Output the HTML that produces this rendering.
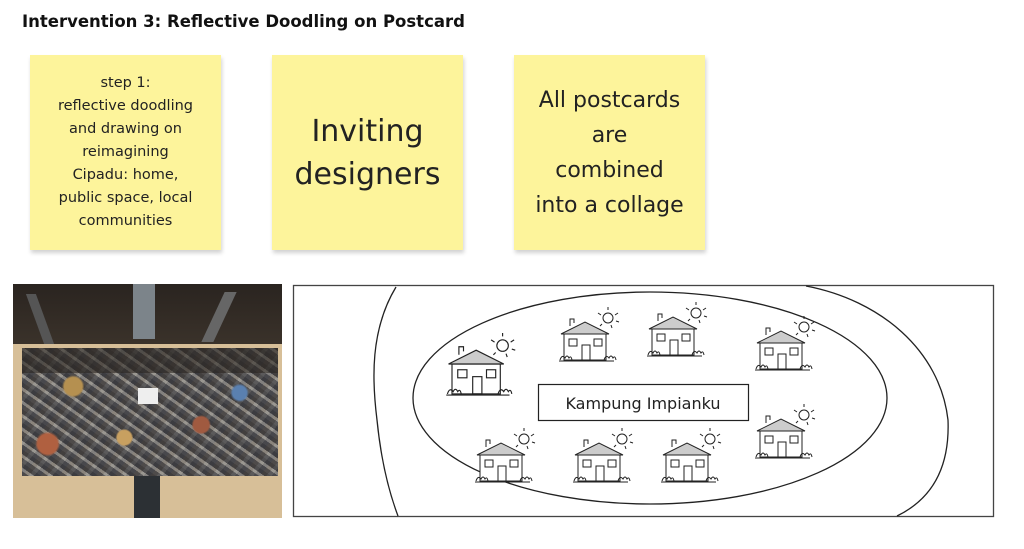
<!DOCTYPE html>
<html><head><meta charset="utf-8"><style>
body{margin:0;width:1024px;height:549px;background:#fff;overflow:hidden;position:relative;font-family:"Liberation Sans","DejaVu Sans",sans-serif}
.t{position:absolute;left:22px;top:12px;font-weight:bold;font-size:16.5px;color:#111;font-family:"DejaVu Sans",sans-serif}
.n{position:absolute;top:55px;width:191px;height:195px;background:#fdf49b;box-shadow:1px 3px 4px rgba(0,0,0,.18);display:flex;align-items:center;justify-content:center;text-align:center;color:#222;font-family:"DejaVu Sans",sans-serif}
.photo{position:absolute;left:13px;top:284px;width:269px;height:234px;background:#d7bf98;overflow:hidden}
</style></head><body>
<div class="t">Intervention 3: Reflective Doodling on Postcard</div>
<div class="n" style="left:30px;font-size:14.5px;line-height:23px">step 1:<br>reflective doodling<br>and drawing on<br>reimagining<br>Cipadu: home,<br>public space, local<br>communities</div>
<div class="n" style="left:272px;font-size:30px;line-height:43px">Inviting<br>designers</div>
<div class="n" style="left:514px;font-size:22px;line-height:35px">All postcards<br>are<br>combined<br>into a collage</div>
<div class="photo">
<div style="position:absolute;left:0;top:0;width:269px;height:60px;background:linear-gradient(180deg,#2a2420,#3a322a)"></div>
<div style="position:absolute;left:120px;top:0;width:22px;height:55px;background:#7c848a"></div>
<div style="position:absolute;left:22px;top:10px;width:10px;height:50px;background:#555;transform:skewX(20deg)"></div>
<div style="position:absolute;left:200px;top:8px;width:12px;height:50px;background:#666;transform:skewX(-25deg)"></div>
<div style="position:absolute;left:9px;top:64px;width:256px;height:128px;background:
radial-gradient(circle at 20% 30%,#b59050 0 4%,transparent 5%),
radial-gradient(circle at 70% 60%,#a05a40 0 4%,transparent 5%),
radial-gradient(circle at 85% 35%,#5a80b0 0 3%,transparent 4%),
radial-gradient(circle at 40% 70%,#c8a060 0 4%,transparent 5%),
radial-gradient(circle at 10% 75%,#b06040 0 4%,transparent 5%),
repeating-linear-gradient(35deg,rgba(60,60,64,.6) 0 4px,rgba(170,166,158,.5) 4px 7px,rgba(40,40,44,.6) 7px 11px),
repeating-linear-gradient(-50deg,#5a5a5e 0 5px,#8a8884 5px 9px,#6a625a 9px 14px),
#666"></div>
<div style="position:absolute;left:9px;top:64px;width:256px;height:25px;background:rgba(40,35,30,.55)"></div>
<div style="position:absolute;left:125px;top:104px;width:20px;height:16px;background:#eee"></div>
<div style="position:absolute;left:121px;top:192px;width:26px;height:42px;background:#2c3034"></div>
</div>
<svg width="1024" height="549" style="position:absolute;left:0;top:0" fill="none" stroke="#222">
<defs>
<g id="h" stroke-width="1">
<rect x="0" y="0" width="42" height="26" fill="#fff"/>
<polygon points="-3,0 21,-12 45,0" fill="#ccc"/>
<path d="M6,-8 v-7 h4 v4"/>
<rect x="18" y="11" width="8" height="15"/>
<rect x="5" y="5" width="8" height="7"/><rect x="30" y="5" width="8" height="7"/>
<path d="M-4,26 q2,-6 5,-2 q2,-4 4,0 q2,-3 3,2 M40,26 q2,-6 5,-2 q2,-4 4,0 q2,-3 3,2 M-5,27 h55"/>
<circle cx="44" cy="-16" r="5"/>
<path d="M44,-24 v-3 M51,-19 l3,-2 M52,-13 l3,1 M37,-19 l-3,-2 M38,-10 l-2,2 M47,-9 l1,3"/>
</g>
</defs>
<rect x="293.5" y="285.5" width="700" height="231" stroke="#444" stroke-width="1.3"/>
<path d="M396,287 C370,330 372,380 377,420 C382,470 392,500 398,516" stroke-width="1.3"/>
<path d="M806,286 C880,300 940,350 948,420 C950,470 930,500 897,516" stroke-width="1.3"/>
<ellipse cx="650" cy="398" rx="237" ry="106" stroke-width="1.3"/>
<rect x="538.5" y="384.5" width="210" height="36" fill="#fff" stroke-width="1.2"/>
<text x="643" y="409" text-anchor="middle" font-family="DejaVu Sans,sans-serif" font-size="16" fill="#222" stroke="none">Kampung Impianku</text>
<use href="#h" transform="translate(452,364) scale(1.15)"/>
<use href="#h" transform="translate(564,334)"/>
<use href="#h" transform="translate(652,329)"/>
<use href="#h" transform="translate(760,343)"/>
<use href="#h" transform="translate(760,431)"/>
<use href="#h" transform="translate(480,455)"/>
<use href="#h" transform="translate(578,455)"/>
<use href="#h" transform="translate(666,455)"/>
</svg>
</body></html>
